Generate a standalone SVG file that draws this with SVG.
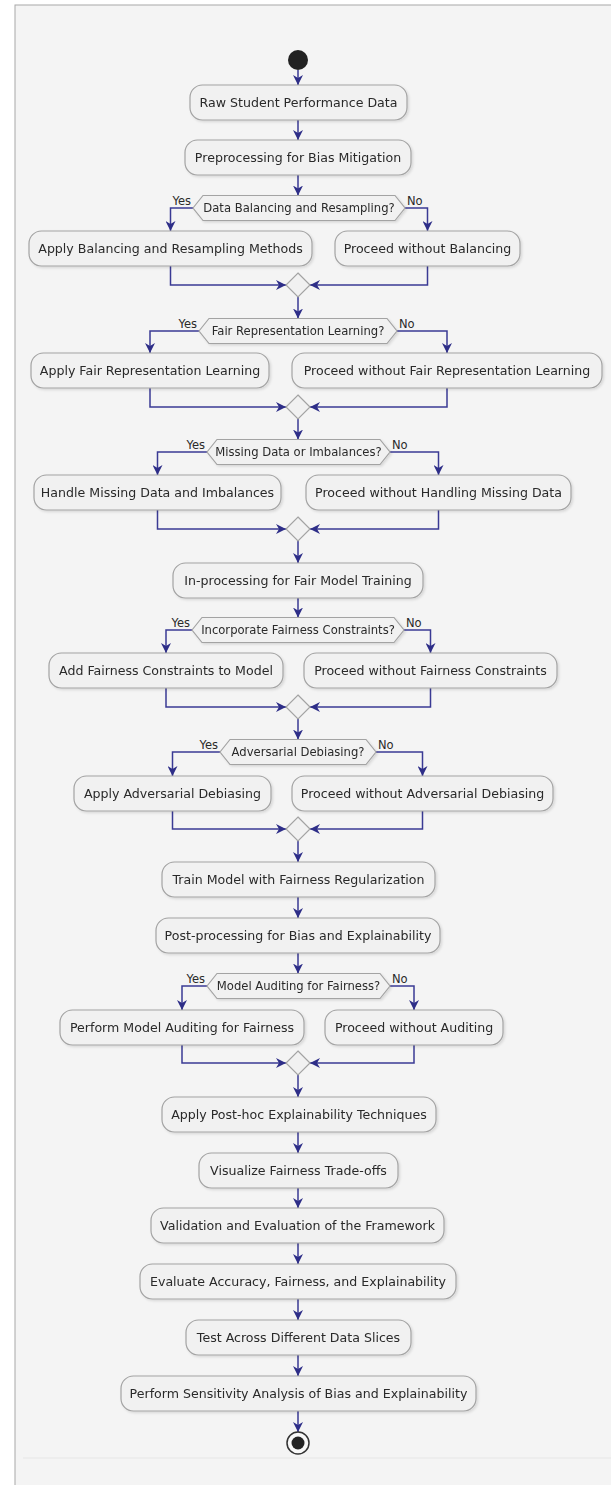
<svg xmlns="http://www.w3.org/2000/svg" width="611" height="1485" viewBox="0 0 611 1485">
<style>
.box{fill:#f1f1f1;stroke:#a3a3a3;stroke-width:1.2}
.hex{fill:#f1f1f1;stroke:#a3a3a3;stroke-width:1.2}
.t{font-family:"DejaVu Sans",sans-serif;font-size:12.6px;fill:#2a2a2a;text-anchor:middle}
.dt{font-family:"DejaVu Sans",sans-serif;font-size:11.6px;fill:#2a2a2a;text-anchor:middle}
.yes{font-family:"DejaVu Sans",sans-serif;font-size:11.5px;fill:#2a2a2a;text-anchor:end}
.no{font-family:"DejaVu Sans",sans-serif;font-size:11.5px;fill:#2a2a2a;text-anchor:start}
.c{fill:none;stroke:#3a3a94;stroke-width:1.5;marker-end:url(#ah)}
</style>
<defs>
<marker id="ah" markerUnits="userSpaceOnUse" viewBox="0 0 10 10" refX="10" refY="5" markerWidth="10" markerHeight="10" orient="auto">
<path d="M0,0 L10,5 L0,10 L3,5 Z" fill="#2e2e88"/>
</marker>
<filter id="sh" x="-5%" y="-20%" width="115%" height="150%">
<feDropShadow dx="1.5" dy="1.5" stdDeviation="1.2" flood-color="#000" flood-opacity="0.12"/>
</filter>
</defs>
<rect x="0" y="0" width="611" height="1485" fill="#ffffff"/>
<rect x="15" y="5" width="610" height="1490" fill="#f4f4f4" stroke="#a8a8a8" stroke-width="1"/>
<line x1="23" y1="1458" x2="611" y2="1458" stroke="#e6e6e6" stroke-width="1"/>

<g id="connectors">
<path class="c" d="M298,70 L298,85"/>
<path class="c" d="M298,120 L298,140"/>
<path class="c" d="M298,175 L298,195.5"/>
<path class="c" d="M193,208 L170.5,208 L170.5,231"/>
<path class="c" d="M405,208 L427.5,208 L427.5,231"/>
<path class="c" d="M170.5,266 L170.5,285 L286,285"/>
<path class="c" d="M427.5,266 L427.5,285 L310,285"/>
<path class="c" d="M298,297 L298,318.5"/>
<path class="c" d="M199,331 L150,331 L150,353"/>
<path class="c" d="M397,331 L447,331 L447,353"/>
<path class="c" d="M150,388 L150,407 L286,407"/>
<path class="c" d="M447,388 L447,407 L310,407"/>
<path class="c" d="M298,419 L298,439.5"/>
<path class="c" d="M207,452 L157.5,452 L157.5,475"/>
<path class="c" d="M390,452 L438.5,452 L438.5,475"/>
<path class="c" d="M157.5,510 L157.5,529 L286,529"/>
<path class="c" d="M438.5,510 L438.5,529 L310,529"/>
<path class="c" d="M298,541 L298,563"/>
<path class="c" d="M298,598 L298,617.5"/>
<path class="c" d="M192,630 L166,630 L166,653"/>
<path class="c" d="M404,630 L430.5,630 L430.5,653"/>
<path class="c" d="M166,688 L166,707 L286,707"/>
<path class="c" d="M430.5,688 L430.5,707 L310,707"/>
<path class="c" d="M298,719 L298,739.5"/>
<path class="c" d="M220,752 L172.5,752 L172.5,776"/>
<path class="c" d="M376,752 L422.5,752 L422.5,776"/>
<path class="c" d="M172.5,811 L172.5,829 L286,829"/>
<path class="c" d="M422.5,811 L422.5,829 L310,829"/>
<path class="c" d="M298,841 L298,862"/>
<path class="c" d="M298,897 L298,918"/>
<path class="c" d="M298,953 L298,973.5"/>
<path class="c" d="M207,986 L182,986 L182,1010"/>
<path class="c" d="M390,986 L414,986 L414,1010"/>
<path class="c" d="M182,1045 L182,1063 L286,1063"/>
<path class="c" d="M414,1045 L414,1063 L310,1063"/>
<path class="c" d="M298,1075 L298,1097"/>
<path class="c" d="M298,1132 L298,1153"/>
<path class="c" d="M298,1188 L298,1208"/>
<path class="c" d="M298,1243 L298,1264"/>
<path class="c" d="M298,1299 L298,1320"/>
<path class="c" d="M298,1355 L298,1376"/>
<path class="c" d="M298,1411 L298,1432"/>
<text class="yes" x="191" y="205">Yes</text><text class="no" x="407" y="205">No</text>
<text class="yes" x="197" y="328">Yes</text><text class="no" x="399" y="328">No</text>
<text class="yes" x="205" y="449">Yes</text><text class="no" x="392" y="449">No</text>
<text class="yes" x="190" y="627">Yes</text><text class="no" x="406" y="627">No</text>
<text class="yes" x="218" y="749">Yes</text><text class="no" x="378" y="749">No</text>
<text class="yes" x="205" y="983">Yes</text><text class="no" x="392" y="983">No</text>
</g>

<g id="start"><circle cx="298" cy="60" r="10" fill="#222"/></g>

<g id="n_raw" filter="url(#sh)"><rect class="box" x="190" y="85" width="217" height="35" rx="12.5"/><text class="t" x="298.5" y="107">Raw Student Performance Data</text></g>
<g id="n_pre" filter="url(#sh)"><rect class="box" x="185" y="140" width="226" height="35" rx="12.5"/><text class="t" x="298" y="162">Preprocessing for Bias Mitigation</text></g>
<g id="d1" filter="url(#sh)"><polygon class="hex" points="193,208 203,195.5 395,195.5 405,208 395,220.5 203,220.5"/><text class="dt" x="299" y="212">Data Balancing and Resampling?</text></g>
<g id="b1y" filter="url(#sh)"><rect class="box" x="29" y="231" width="283" height="35" rx="12.5"/><text class="t" x="170.5" y="253">Apply Balancing and Resampling Methods</text></g>
<g id="b1n" filter="url(#sh)"><rect class="box" x="335" y="231" width="185" height="35" rx="12.5"/><text class="t" x="427.5" y="253">Proceed without Balancing</text></g>
<g id="m1"><polygon class="hex" points="298,273 310,285 298,297 286,285"/></g>

<g id="d2" filter="url(#sh)"><polygon class="hex" points="199,331 209,318.5 387,318.5 397,331 387,343.5 209,343.5"/><text class="dt" x="298" y="335">Fair Representation Learning?</text></g>
<g id="b2y" filter="url(#sh)"><rect class="box" x="31" y="353" width="238" height="35" rx="12.5"/><text class="t" x="150" y="375">Apply Fair Representation Learning</text></g>
<g id="b2n" filter="url(#sh)"><rect class="box" x="292" y="353" width="310" height="35" rx="12.5"/><text class="t" x="447" y="375">Proceed without Fair Representation Learning</text></g>
<g id="m2"><polygon class="hex" points="298,395 310,407 298,419 286,407"/></g>

<g id="d3" filter="url(#sh)"><polygon class="hex" points="207,452 217,439.5 380,439.5 390,452 380,464.5 217,464.5"/><text class="dt" x="298.5" y="456">Missing Data or Imbalances?</text></g>
<g id="b3y" filter="url(#sh)"><rect class="box" x="34" y="475" width="247" height="35" rx="12.5"/><text class="t" x="157.5" y="497">Handle Missing Data and Imbalances</text></g>
<g id="b3n" filter="url(#sh)"><rect class="box" x="306" y="475" width="265" height="35" rx="12.5"/><text class="t" x="438.5" y="497">Proceed without Handling Missing Data</text></g>
<g id="m3"><polygon class="hex" points="298,517 310,529 298,541 286,529"/></g>

<g id="n_inproc" filter="url(#sh)"><rect class="box" x="173" y="563" width="250" height="35" rx="12.5"/><text class="t" x="298" y="585">In-processing for Fair Model Training</text></g>
<g id="d4" filter="url(#sh)"><polygon class="hex" points="192,630 202,617.5 394,617.5 404,630 394,642.5 202,642.5"/><text class="dt" x="298" y="634">Incorporate Fairness Constraints?</text></g>
<g id="b4y" filter="url(#sh)"><rect class="box" x="49" y="653" width="234" height="35" rx="12.5"/><text class="t" x="166" y="675">Add Fairness Constraints to Model</text></g>
<g id="b4n" filter="url(#sh)"><rect class="box" x="304" y="653" width="253" height="35" rx="12.5"/><text class="t" x="430.5" y="675">Proceed without Fairness Constraints</text></g>
<g id="m4"><polygon class="hex" points="298,695 310,707 298,719 286,707"/></g>

<g id="d5" filter="url(#sh)"><polygon class="hex" points="220,752 230,739.5 366,739.5 376,752 366,764.5 230,764.5"/><text class="dt" x="298" y="756">Adversarial Debiasing?</text></g>
<g id="b5y" filter="url(#sh)"><rect class="box" x="74" y="776" width="197" height="35" rx="12.5"/><text class="t" x="172.5" y="798">Apply Adversarial Debiasing</text></g>
<g id="b5n" filter="url(#sh)"><rect class="box" x="292" y="776" width="261" height="35" rx="12.5"/><text class="t" x="422.5" y="798">Proceed without Adversarial Debiasing</text></g>
<g id="m5"><polygon class="hex" points="298,817 310,829 298,841 286,829"/></g>

<g id="n_train" filter="url(#sh)"><rect class="box" x="162" y="862" width="273" height="35" rx="12.5"/><text class="t" x="298.5" y="884">Train Model with Fairness Regularization</text></g>
<g id="n_post" filter="url(#sh)"><rect class="box" x="156" y="918" width="284" height="35" rx="12.5"/><text class="t" x="298" y="940">Post-processing for Bias and Explainability</text></g>
<g id="d6" filter="url(#sh)"><polygon class="hex" points="207,986 217,973.5 380,973.5 390,986 380,998.5 217,998.5"/><text class="dt" x="298.5" y="990">Model Auditing for Fairness?</text></g>
<g id="b6y" filter="url(#sh)"><rect class="box" x="60" y="1010" width="244" height="35" rx="12.5"/><text class="t" x="182" y="1032">Perform Model Auditing for Fairness</text></g>
<g id="b6n" filter="url(#sh)"><rect class="box" x="325" y="1010" width="178" height="35" rx="12.5"/><text class="t" x="414" y="1032">Proceed without Auditing</text></g>
<g id="m6"><polygon class="hex" points="298,1051 310,1063 298,1075 286,1063"/></g>

<g id="n_posthoc" filter="url(#sh)"><rect class="box" x="162" y="1097" width="274" height="35" rx="12.5"/><text class="t" x="299" y="1119">Apply Post-hoc Explainability Techniques</text></g>
<g id="n_vis" filter="url(#sh)"><rect class="box" x="199" y="1153" width="199" height="35" rx="12.5"/><text class="t" x="298.5" y="1175">Visualize Fairness Trade-offs</text></g>
<g id="n_val" filter="url(#sh)"><rect class="box" x="151" y="1208" width="293" height="35" rx="12.5"/><text class="t" x="297.5" y="1230">Validation and Evaluation of the Framework</text></g>
<g id="n_eval" filter="url(#sh)"><rect class="box" x="140" y="1264" width="316" height="35" rx="12.5"/><text class="t" x="298" y="1286">Evaluate Accuracy, Fairness, and Explainability</text></g>
<g id="n_test" filter="url(#sh)"><rect class="box" x="186" y="1320" width="225" height="35" rx="12.5"/><text class="t" x="298.5" y="1342">Test Across Different Data Slices</text></g>
<g id="n_sens" filter="url(#sh)"><rect class="box" x="121" y="1376" width="355" height="35" rx="12.5"/><text class="t" x="298.5" y="1398">Perform Sensitivity Analysis of Bias and Explainability</text></g>

<g id="end"><circle cx="298" cy="1443" r="11" fill="#f8f8f8" stroke="#333" stroke-width="1.5"/><circle cx="298" cy="1443" r="6.5" fill="#222"/></g>
</svg>
